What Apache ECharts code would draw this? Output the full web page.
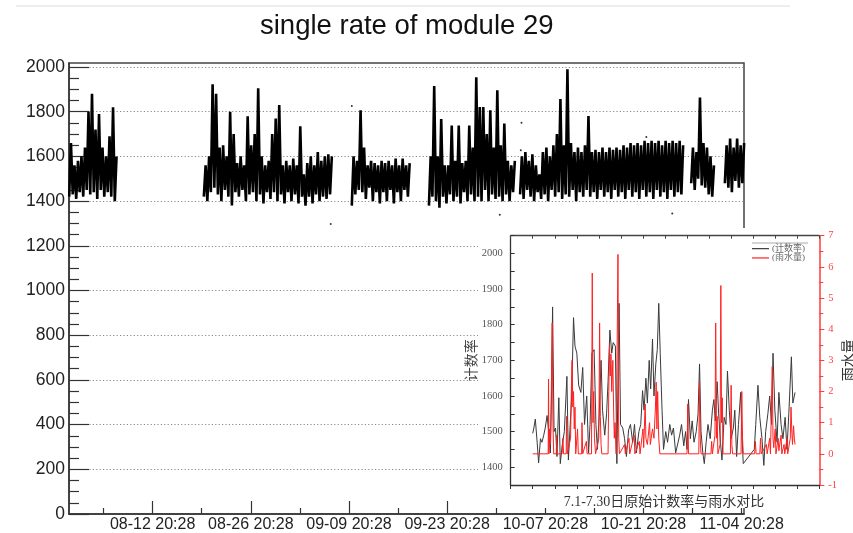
<!DOCTYPE html>
<html><head><meta charset="utf-8">
<script src="https://cdn.jsdelivr.net/npm/echarts@6/dist/echarts.min.js"></script>
<style>
html,body{margin:0;padding:0;background:#fff;}
#main{position:absolute;left:0;top:0;width:853px;height:533px;}
#inset{position:absolute;left:455px;top:228px;width:398px;height:282px;}
</style>
</head><body>
<div id="main"></div><div id="inset"></div>
<script>
// ---------- main chart: x in days relative to 08-12 20:28 ----------
const xTickDays = [0, 14, 28, 42, 56, 70, 84];
const xTickLabels = ['08-12 20:28','08-26 20:28','09-09 20:28','09-23 20:28','10-07 20:28','10-21 20:28','11-04 20:28'];
const xMinorDays = [-7, 7, 21, 35, 49, 63, 77];
const yTicks = [0,200,400,600,800,1000,1200,1400,1600,1800,2000];
const yMinorTicks = [50,100,150,250,300,350,450,500,550,650,700,750,850,900,950,1050,1100,1150,1250,1300,1350,1450,1500,1550,1650,1700,1750,1850,1900,1950];

// segments of dense rate data: start day, then half-day [low, high] pairs
const segStart = [-11.9, 7.3, 28.4, 39.4, 52.4, 76.8, 81.6];
const segLow = [
  [1420,1430,1410,1440,1420,1450,1430,1440,1410,1450,1420,1440,1420,1400],
  [1420,1400,1440,1460,1430,1400,1450,1420,1380,1440,1420,1450,1400,1430,1440,1400,1430,1390,1440,1410,1440,1400,1430,1390,1440,1400,1430,1390,1420,1380,1420,1390,1430,1400,1420,1410,1430],
  [1380,1430,1450,1440,1410,1460,1400,1440,1390,1440,1400,1450,1390,1440,1400,1450,1420],
  [1380,1420,1400,1370,1420,1390,1430,1400,1420,1390,1440,1400,1430,1400,1420,1400,1450,1400,1430,1410,1420,1400,1430,1400,1440],
  [1430,1410,1450,1420,1400,1440,1410,1430,1400,1450,1420,1440,1410,1430,1420,1450,1400,1440,1420,1450,1420,1440,1410,1450,1420,1440,1410,1450,1420,1440,1410,1450,1420,1440,1410,1450,1420,1440,1410,1450,1420,1440,1410,1450,1420,1440,1430],
  [1480,1450,1500,1470,1460,1430,1420],
  [1480,1460,1440,1490,1460,1480]
];
const segHigh = [
  [1660,1560,1580,1600,1640,1800,1880,1720,1790,1640,1600,1690,1820,1600],
  [1560,1600,1923,1880,1640,1650,1600,1800,1700,1570,1600,1560,1780,1650,1700,1905,1600,1560,1580,1700,1770,1830,1560,1580,1560,1590,1560,1735,1520,1570,1600,1560,1620,1580,1600,1610,1600],
  [1600,1580,1807,1640,1560,1580,1570,1560,1580,1570,1580,1560,1590,1560,1590,1560,1570],
  [1600,1915,1600,1767,1560,1560,1738,1580,1738,1570,1580,1738,1640,1954,1821,1821,1700,1807,1640,1896,1650,1747,1580,1560,1580],
  [1600,1620,1580,1610,1560,1520,1620,1640,1600,1650,1700,1857,1650,1990,1660,1620,1640,1620,1650,1781,1620,1630,1620,1640,1620,1640,1630,1640,1630,1650,1640,1660,1650,1660,1650,1670,1660,1670,1660,1670,1650,1670,1660,1670,1660,1670,1650],
  [1640,1620,1864,1660,1640,1600,1560],
  [1650,1680,1640,1680,1650,1660]
];
const strayPoints = [[52.6,1751],[52.5,1628],[70.4,1687],[49.5,1339],[74.1,1345],[25.4,1298],[28.4,1826]];

// ---------- inset chart: x in hours from 7.1 00:00 ----------
const countRate = [[0,1495],[3,1510],[7,1535],[12,1470],[16,1412],[21,1480],[25,1470],[30,1490],[34,1510],[39,1545],[43,1505],[48,1440],[51,1600],[54,1850],[58,1500],[62,1510],[66,1430],[71,1595],[75,1410],[80,1460],[86,1500],[93,1655],[97,1420],[102,1520],[106,1600],[111,1820],[115,1740],[120,1720],[125,1630],[131,1610],[136,1680],[141,1520],[147,1600],[152,1440],[156,1520],[161,1720],[167,1730],[172,1520],[176,1450],[181,1550],[186,1700],[190,1560],[196,1490],[201,1550],[205,1640],[210,1785],[215,1720],[219,1750],[225,1740],[229,1410],[235,1860],[239,1520],[245,1510],[250,1480],[255,1430],[261,1505],[266,1520],[272,1470],[277,1520],[282,1440],[289,1500],[294,1520],[299,1615],[303,1560],[308,1650],[312,1580],[317,1700],[321,1620],[326,1760],[330,1600],[335,1690],[339,1730],[343,1860],[347,1720],[352,1560],[356,1450],[362,1500],[367,1470],[373,1520],[378,1490],[383,1510],[389,1440],[394,1440],[400,1490],[405,1520],[411,1460],[416,1500],[420,1450],[424,1590],[429,1480],[434,1530],[439,1470],[445,1500],[450,1550],[454,1690],[458,1500],[463,1440],[467,1410],[472,1470],[477,1520],[483,1480],[489,1560],[493,1590],[497,1530],[502,1640],[506,1550],[511,1470],[515,1420],[521,1540],[526,1520],[530,1670],[535,1560],[540,1480],[546,1510],[550,1560],[555,1430],[560,1520],[566,1610],[569,1500],[573,1410],[603,1450],[607,1520],[613,1630],[618,1540],[624,1480],[629,1405],[634,1500],[640,1550],[645,1600],[650,1520],[654,1720],[659,1560],[665,1470],[670,1610],[676,1520],[681,1480],[687,1540],[692,1450],[697,1550],[704,1710],[708,1580],[714,1610]];
const rainfall = [[0,0],[42,0],[43,2.4],[44,0],[46,0.8],[48,0.3],[50,1.5],[53,4.2],[55,1.0],[57,0],[64,0],[65,0.6],[66,0],[80,0],[82,0.5],[84,0],[91,0],[92,1.2],[94,0],[103,0.5],[105,2.0],[107,3.0],[109,1.5],[111,2.0],[113,0.8],[115,1.5],[117,0],[122,0.8],[124,0],[133,0],[134,1.0],[136,0],[146,0.4],[148,0],[160,0],[162,5.8],[164,1.0],[166,2.0],[168,0.5],[171,0],[180,0.5],[182,4.2],[184,1.2],[186,0.3],[188,0],[205,0],[207,2.0],[209,3.5],[211,2.5],[213,3.2],[215,2.0],[218,3.0],[220,1.5],[222,0.5],[224,1.0],[227,0],[231,0],[232,6.4],[234,0.5],[236,0],[250,0.3],[252,0],[262,0.5],[264,0],[276,0.6],[278,0],[290,0.4],[292,0],[300,0.8],[302,0.2],[306,1.6],[308,0.5],[312,0.3],[318,1.0],[320,0.3],[326,0.8],[330,0.5],[334,1.5],[336,2.3],[338,0.8],[340,2.0],[343,0.5],[346,0],[420,0],[422,1.6],[424,0],[452,0],[454,2.3],[456,0.5],[458,0],[485,0],[487,0.4],[489,0],[496,0.6],[498,4.2],[500,0.5],[502,1.2],[504,0],[510,0.3],[512,5.4],[514,1.0],[516,1.8],[518,0],[538,0],[540,2.2],[542,0.3],[544,0],[567,0],[569,2.0],[571,0.5],[573,0],[604,0],[606,0.4],[608,0],[618,0],[620,0.5],[622,0],[636,0.3],[638,0],[645,0.5],[647,0],[652,2.8],[654,0.5],[656,0.2],[660,0.8],[662,0],[668,0.5],[670,0.1],[676,0.6],[678,0],[684,0.3],[686,0],[692,0.5],[694,0],[701,0.5],[703,1.5],[705,0.8],[707,0.3],[710,0.9],[712,0.5],[714,0.3]];
const insetTitle = '7.1-7.30日原始计数率与雨水对比';
const legendNames = ['(计数率)', '(雨水量)'];

// ---------- build main chart ----------
const X_MIN = -11.93, X_MAX = 84.33, Y_MAX = 2018;
const mainSeries = segStart.map((s, i) => {
  const d = [];
  segLow[i].forEach((lo, k) => {
    d.push([s + 0.5 * k, lo]);
    d.push([s + 0.5 * k + 0.25, segHigh[i][k]]);
  });
  return { type: 'line', data: d, showSymbol: false, symbol: 'none',
    lineStyle: { color: '#000', width: 2.6, join: 'miter' }, silent: true };
});
mainSeries.push({ type: 'scatter', data: strayPoints, symbolSize: 2,
  itemStyle: { color: '#000' }, silent: true });

const mainChart = echarts.init(document.getElementById('main'));
mainChart.setOption({
  animation: false,
  title: { text: 'single rate of module 29', left: 255, top: 7,
    textStyle: { fontFamily: 'Liberation Sans', fontSize: 27.5, fontWeight: 'normal', color: '#111' } },
  graphic: [{ type: 'line', shape: { x1: 16, y1: 6, x2: 790, y2: 6 },
    style: { stroke: '#dcdcdc', lineWidth: 1 }, silent: true }],
  grid: { left: 69, right: 109, top: 63, bottom: 19, show: true, outerBoundsMode: 'none',
    borderColor: '#444', borderWidth: 1.5, backgroundColor: 'transparent' },
  xAxis: [
    { type: 'value', min: X_MIN, max: X_MAX, position: 'bottom',
      axisLine: { onZero: false, lineStyle: { color: '#333', width: 1.5 } },
      axisTick: { customValues: xTickDays, inside: true, length: 13, lineStyle: { color: '#333', width: 1.2 } },
      axisLabel: { customValues: xTickDays, margin: 3, fontSize: 16, color: '#222', fontFamily: 'Liberation Sans',
        formatter: v => { const i = xTickDays.indexOf(Math.round(v)); return i >= 0 ? xTickLabels[i] : ''; } },
      splitLine: { show: false } },
    { type: 'value', min: X_MIN, max: X_MAX, position: 'bottom',
      axisLine: { show: false, onZero: false },
      axisTick: { customValues: xMinorDays, inside: true, length: 6, lineStyle: { color: '#333', width: 1.2 } },
      axisLabel: { show: false }, splitLine: { show: false } }
  ],
  yAxis: [
    { type: 'value', min: 0, max: Y_MAX, interval: 200, position: 'left',
      axisLine: { show: true, onZero: false, lineStyle: { color: '#333', width: 1.5 } },
      axisTick: { customValues: yTicks, inside: true, length: 20, lineStyle: { color: '#333', width: 1.2 } },
      axisLabel: { customValues: yTicks, margin: 4, fontSize: 17.5, color: '#222', fontFamily: 'Liberation Sans',
        formatter: v => String(v) },
      splitLine: { show: true, lineStyle: { color: '#888', width: 1, type: [1.2, 2.2] } } },
    { type: 'value', min: 0, max: Y_MAX, position: 'left',
      axisLine: { show: false, onZero: false },
      axisTick: { customValues: yMinorTicks, inside: true, length: 10, lineStyle: { color: '#333', width: 1.2 } },
      axisLabel: { show: false }, splitLine: { show: false } }
  ],
  series: mainSeries
});

// ---------- build inset chart ----------
const SERIF = '"Liberation Serif", "DejaVu Serif", "Noto Sans CJK SC", serif';
const insetChart = echarts.init(document.getElementById('inset'));
insetChart.setOption({
  animation: false,
  graphic: [
    { type: 'rect', z: -100, shape: { x: 23, y: 0, width: 375, height: 280 }, style: { fill: '#fff' }, silent: true },
    { type: 'line', shape: { x1: 297, y1: 15, x2: 353, y2: 15 }, style: { stroke: '#aaa', lineWidth: 1 }, silent: true },
    { type: 'text', x: 209, y: 274, silent: true,
      style: { text: insetTitle, fill: '#333', fontSize: 14, fontFamily: SERIF, textAlign: 'center', textVerticalAlign: 'middle' } }
  ],
  legend: { orient: 'vertical', left: 297, top: 16, itemWidth: 17, itemHeight: 1.2, itemGap: 0,
    icon: 'rect', padding: 0,
    textStyle: { fontSize: 9, color: '#666', fontFamily: SERIF, lineHeight: 9.3, padding: [0, 0, 0, -2] },
    data: legendNames },
  grid: { left: 55.7, right: 33.7, top: 7.7, bottom: 25, show: false, outerBoundsMode: 'none' },
  xAxis: [
    { type: 'value', min: -60, max: 780, interval: 60, position: 'bottom',
      axisLine: { onZero: false, lineStyle: { color: '#333', width: 1.3 } },
      axisTick: { inside: false, length: 4, lineStyle: { color: '#333' } },
      axisLabel: { show: false }, splitLine: { show: false } },
    { type: 'value', min: -60, max: 780, interval: 60, position: 'top',
      axisLine: { onZero: false, lineStyle: { color: '#444', width: 1.3 } },
      axisTick: { inside: true, length: 3, lineStyle: { color: '#444' } },
      axisLabel: { show: false }, splitLine: { show: false } }
  ],
  yAxis: [
    { type: 'value', min: 1350, max: 2050, interval: 50, position: 'left',
      name: '计数率', nameLocation: 'middle', nameGap: 33, nameRotate: 90, nameMoveOverlap: false,
      nameTextStyle: { color: '#444', fontSize: 14, fontFamily: '"Noto Sans CJK SC"' },
      axisLine: { show: true, onZero: false, lineStyle: { color: '#333', width: 1.3 } },
      axisTick: { inside: true, length: 4, lineStyle: { color: '#333' } },
      axisLabel: { margin: 8, fontSize: 10.5, color: '#555', fontFamily: SERIF,
        formatter: v => (v % 100 === 0 ? String(v) : '') },
      splitLine: { show: false } },
    { type: 'value', min: -1, max: 7, interval: 1, position: 'right',
      name: '雨水量', nameLocation: 'middle', nameGap: 21.5, nameRotate: 90, nameMoveOverlap: false,
      nameTextStyle: { color: '#333', fontSize: 14, fontFamily: '"Noto Sans CJK SC"' },
      axisLine: { show: true, onZero: false, lineStyle: { color: '#ff3b3b', width: 1.5 } },
      axisTick: { inside: false, length: 5, lineStyle: { color: '#ff3b3b' } },
      minorTick: { show: true, splitNumber: 2, length: 4, lineStyle: { color: '#ff3b3b' } },
      axisLabel: { margin: 9, fontSize: 10.5, color: '#ff4545', fontFamily: SERIF },
      splitLine: { show: false } }
  ],
  series: [
    { name: legendNames[0], type: 'line', xAxisIndex: 0, yAxisIndex: 0, data: countRate,
      symbol: 'none', lineStyle: { color: '#3a3a3a', width: 1 }, itemStyle: { color: '#3a3a3a' } },
    { name: legendNames[1], type: 'line', xAxisIndex: 0, yAxisIndex: 1, data: rainfall,
      symbol: 'none', lineStyle: { color: '#ff2020', width: 1 }, itemStyle: { color: '#ff2020' } }
  ]
});
</script>
</body></html>
